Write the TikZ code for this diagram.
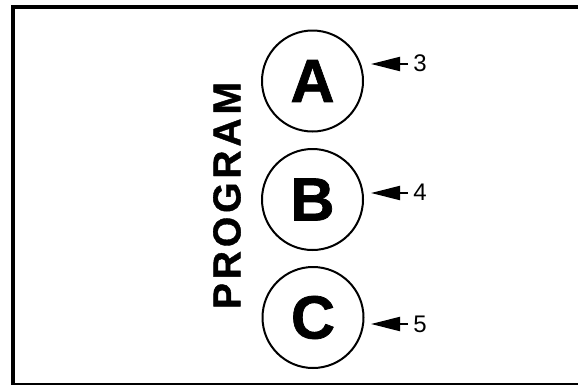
\documentclass[tikz,border=0pt]{standalone}
\usepackage{fontspec}
\setmainfont{Liberation Sans}
\usetikzlibrary{arrows.meta}
\begin{document}
\begin{tikzpicture}[x=1pt,y=-1pt,
  letter/.style={draw, circle, line width=2pt, minimum size=101pt, inner sep=0pt,
    font=\fontsize{61}{61}\selectfont\bfseries\addfontfeature{FakeBold=1.2}},
  numlabel/.style={inner sep=0pt, font=\fontsize{24}{24}\selectfont},
  pointer/.style={line width=2pt, -{Triangle[length=29pt,width=14pt]}}]
\useasboundingbox (0,0) rectangle (578,386);
\draw[line width=4pt] (13,384) -- (13,7) -- (580,7);
\draw[line width=1.5pt] (11,384) -- (580,384);
\node[letter] (A) at (312.5,81) {A};
\node[letter] (B) at (312.5,199.5) {B};
\node[letter] (C) at (313,317.5) {C};
\node[inner sep=0pt, rotate=90,
  font=\fontsize{39}{39}\selectfont\bfseries\addfontfeature{LetterSpace=10,FakeBold=1}] (prog) at (227,195.5) {PROGRAM};
\node[numlabel] (n3) at (420,63) {3};
\node[numlabel] (n4) at (420,192) {4};
\node[numlabel] (n5) at (420,324) {5};
\coordinate (t3) at (371,64);
\coordinate (t4) at (371,193);
\coordinate (t5) at (371,324);
\draw[pointer] ([xshift=-5pt]n3.west |- t3) -- (t3);
\draw[pointer] ([xshift=-5pt]n4.west |- t4) -- (t4);
\draw[pointer] ([xshift=-5pt]n5.west |- t5) -- (t5);
\end{tikzpicture}
\end{document}
